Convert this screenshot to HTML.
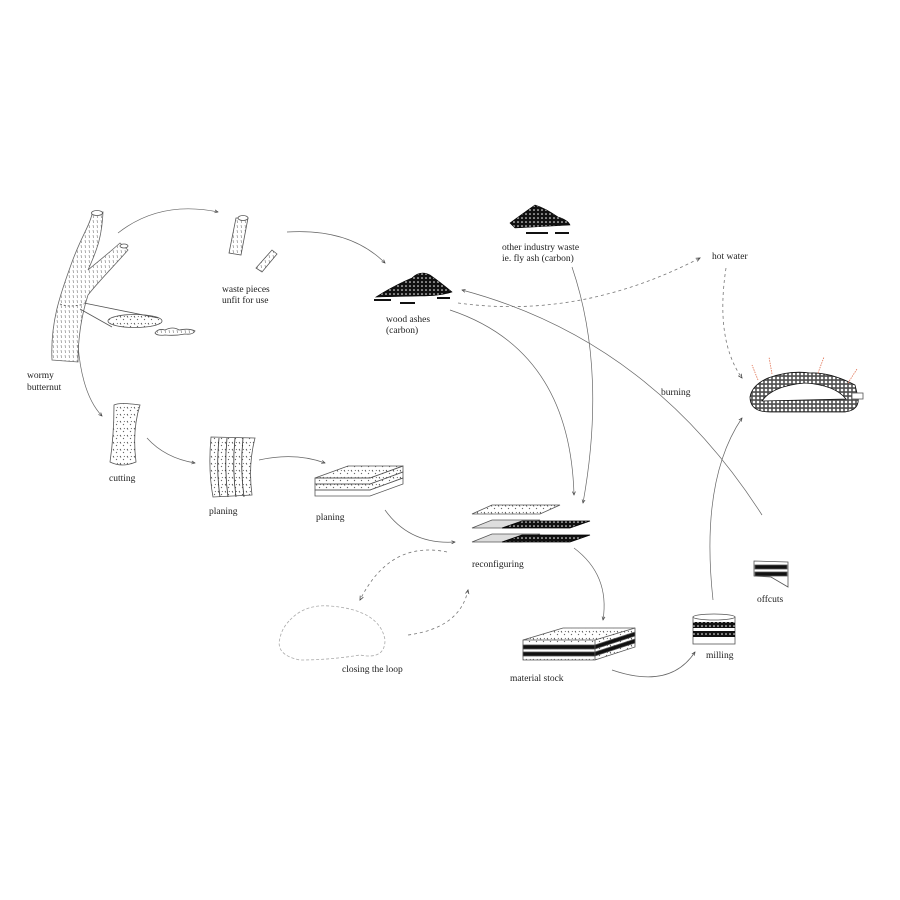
<!DOCTYPE html>
<html><head><meta charset="utf-8"><style>
html,body{margin:0;padding:0;background:#fff}
svg{display:block}
text{font-family:"Liberation Serif",serif;font-size:9.5px;fill:#222}
</style></head><body>
<svg width="900" height="900" viewBox="0 0 900 900" xmlns="http://www.w3.org/2000/svg">
<defs>
<marker id="a" markerWidth="6" markerHeight="6" refX="5" refY="3" orient="auto"><path d="M0,0.8 L5,3 L0,5.2" fill="none" stroke="#444" stroke-width="1"/></marker>
<pattern id="hatch" width="4" height="5" patternUnits="userSpaceOnUse"><path d="M1,0 l0.5,3" stroke="#777" stroke-width="0.6"/></pattern>
<pattern id="spk" width="7" height="7" patternUnits="userSpaceOnUse"><path d="M1,1 l1,1.5 M4,4 l1,1 M5,1 l0.6,1" stroke="#333" stroke-width="0.7"/></pattern>
<pattern id="blk" width="4" height="4" patternUnits="userSpaceOnUse"><rect width="4" height="4" fill="#111"/><circle cx="2" cy="2" r="0.8" fill="#fff"/></pattern>
<pattern id="mid" width="4" height="4" patternUnits="userSpaceOnUse"><rect width="4" height="4" fill="#555"/><circle cx="2" cy="2" r="1.3" fill="#fff"/></pattern>
</defs>
<g fill="none" stroke="#555" stroke-width="0.8">
<path d="M52,360 C50,320 62,290 72,262 C82,235 90,225 92,214 L103,212 C102,235 98,248 88,270 C100,260 110,252 120,243 L128,250 C115,265 98,282 88,295 C80,320 78,345 78,362 Z" fill="url(#hatch)" stroke="#666"/>
<ellipse cx="97" cy="213" rx="5.5" ry="2.5" fill="#fff"/>
<ellipse cx="124" cy="246" rx="4" ry="2" fill="#fff"/>
<path d="M60,304 Q70,308 84,304" stroke-dasharray="2 2"/>
<path d="M84,303 L158,318 M80,309 L112,327"/>
<ellipse cx="135" cy="321" rx="27" ry="6.5" fill="url(#spk)"/>
<path d="M155,333 q3,-5 10,-3 q8,-4 14,0 q10,-2 16,1 q-2,4 -10,3 q-10,2 -20,1 q-8,1 -10,-2z" fill="url(#hatch)"/>
<path d="M236,218 L248,218 L241,255 L229,253 Z" fill="url(#hatch)"/><ellipse cx="243" cy="218" rx="5" ry="2.5" fill="#fff"/>
<path d="M272,250 L277,254 L262,272 L256,268 Z" fill="url(#hatch)"/>
<path d="M114,405 Q120,402 140,405 Q132,430 136,462 Q122,468 110,462 Q114,435 114,405Z" fill="url(#spk)"/>
<path d="M211,437 L255,438 Q248,465 252,495 L213,497 Q208,470 211,437Z" fill="url(#spk)"/>
<path d="M219,438 Q216,470 220,497 M227,438 Q224,468 228,497 M235,438 Q232,468 236,497 M243,438 Q240,468 244,497" stroke="#333"/>
<g fill="#fff">
<path d="M315,490 L370,490 L403,478 L403,484 L370,496 L315,496Z"/>
<path d="M315,484 L370,484 L403,472 L403,478 L370,490 L315,490Z" fill="url(#spk)"/>
<path d="M315,478 L370,478 L403,466 L403,472 L370,484 L315,484Z" fill="url(#spk)"/>
<path d="M315,478 L348,466 L403,466 L370,478Z" fill="url(#spk)"/>
</g>
<g>
<path d="M472,514 L540,514 L560,505 L492,505Z" fill="url(#spk)"/>
<path d="M472,528 L522,528 L540,520 L492,520Z" fill="#ddd"/>
<path d="M502,528 L570,528 L590,521 L522,521Z" fill="url(#blk)" stroke="#000"/>
<path d="M472,542 L522,542 L540,534 L492,534Z" fill="#ddd"/>
<path d="M502,542 L570,542 L590,535 L522,535Z" fill="url(#blk)" stroke="#000"/>
</g>
<path d="M523,640 L563,628 L635,628 L635,647 L595,660 L523,660Z" fill="url(#spk)"/>
<path d="M523,640 L595,640 L635,628 M595,640 L595,660" />
<rect x="523" y="645" width="72" height="4" fill="#111"/><rect x="523" y="652" width="72" height="4" fill="#111"/>
<path d="M595,645 L635,632 L635,636 L595,649Z M595,652 L635,639 L635,643 L595,656Z" fill="#111"/>
<rect x="693" y="617" width="42" height="27" fill="#fff"/><ellipse cx="714" cy="617" rx="21" ry="3" fill="#fff"/>
<rect x="693" y="622" width="42" height="6" fill="url(#blk)" stroke="none"/><rect x="693" y="631" width="42" height="6" fill="url(#blk)" stroke="none"/>
<path d="M754,561 L788,562 L788,587 L771,577 L754,576Z" fill="#fff"/>
<rect x="755" y="565" width="32" height="4" fill="#111"/><rect x="755" y="572" width="32" height="4" fill="#111"/>
<path d="M750,397 Q752,385 768,378 Q790,370 810,373 Q830,372 855,385 L858,397 Q860,410 845,412 L770,412 Q750,412 750,397Z" fill="url(#mid)" stroke="#111"/>
<path d="M762,401 Q772,386 805,383 Q835,385 846,399 Z" fill="#fff" stroke="#111"/>
<rect x="852" y="393" width="11" height="6" fill="#fff"/>
<path d="M758,380 l-6,-15 M772,374 l-3,-17 M818,373 l6,-16 M848,383 l9,-14" stroke="#e07050" stroke-dasharray="1.5 1"/>
</g>
<path d="M376,297 Q395,285 412,278 Q420,270 430,275 Q440,282 452,292 Q440,296 420,296 Z" fill="url(#blk)" stroke="#000" stroke-width="0.6"/>
<path d="M374,299 h17 v2 h-17z M400,302 h15 v2 h-15z M437,297 h13 v2 h-13z" fill="#111"/>
<path d="M510,223 Q525,212 535,205 Q545,208 558,217 Q568,220 570,225 L515,228Z" fill="url(#blk)" stroke="#000" stroke-width="0.6"/>
<path d="M526,232 h22 v2 h-22z M555,232 h14 v2 h-14z" fill="#111"/>
<g fill="none" stroke="#666" stroke-width="0.7" marker-end="url(#a)">
<path d="M118,233 Q160,200 218,212"/>
<path d="M287,232 Q350,228 385,263"/>
<path d="M78,345 Q82,395 102,416"/>
<path d="M147,438 Q165,458 195,463"/>
<path d="M259,460 Q295,452 325,463"/>
<path d="M385,510 Q410,545 455,542"/>
<path d="M450,310 Q570,350 574,495"/>
<path d="M572,267 Q607,370 583,503"/>
<path d="M574,548 Q610,575 603,620"/>
<path d="M612,670 Q670,690 695,652"/>
<path d="M713,600 Q700,480 742,418"/>
<path d="M762,515 Q650,340 462,290"/>
</g>
<g fill="none" stroke="#777" stroke-width="0.8" stroke-dasharray="3 3" marker-end="url(#a)">
<path d="M458,303 Q580,320 700,258"/>
<path d="M726,268 Q715,340 742,378"/>
<path d="M447,552 Q390,540 360,600"/>
<path d="M408,635 Q460,628 468,590"/>
</g>
<path d="M290,620 Q305,604 330,606 Q380,610 385,640 Q385,660 360,655 Q330,660 300,660 Q275,655 280,638 Q282,628 290,620Z" fill="none" stroke="#aaa" stroke-width="0.8" stroke-dasharray="3 2"/>
<text x="27" y="378">wormy</text><text x="27" y="390">butternut</text>
<text x="222" y="292">waste pieces</text><text x="222" y="303">unfit for use</text>
<text x="386" y="322">wood ashes</text><text x="386" y="333">(carbon)</text>
<text x="502" y="250">other industry waste</text><text x="502" y="261">ie. fly ash (carbon)</text>
<text x="712" y="259">hot water</text>
<text x="661" y="395">burning</text>
<text x="109" y="481">cutting</text>
<text x="209" y="514">planing</text>
<text x="316" y="520">planing</text>
<text x="472" y="567">reconfiguring</text>
<text x="342" y="672">closing the loop</text>
<text x="510" y="681">material stock</text>
<text x="706" y="658">milling</text>
<text x="757" y="602">offcuts</text>
</svg>
</body></html>
